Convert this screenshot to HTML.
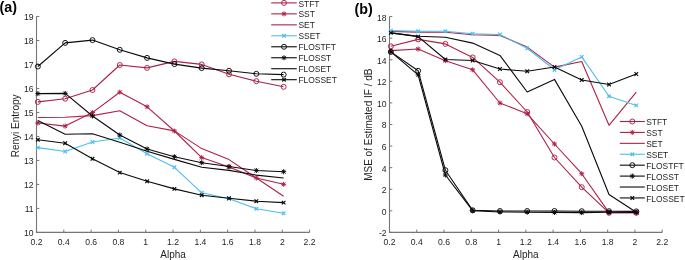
<!DOCTYPE html>
<html><head><meta charset="utf-8"><style>
html,body{margin:0;padding:0;background:#fff;width:685px;height:260px;overflow:hidden}
svg{display:block;will-change:transform}
</style></head><body>
<svg width="685" height="260" viewBox="0 0 685 260">
<rect width="685" height="260" fill="#fff"/>
<g font-family='"Liberation Sans", sans-serif' font-size="8.6" fill="#1e1e1e">
<path d="M36.5 16.5L36.5 232.4L309.6 232.4" fill="none" stroke="#767676" stroke-width="1.1"/>
<path d="M36.5 232.4L36.5 229.6M63.81 232.4L63.81 229.6M91.12 232.4L91.12 229.6M118.43 232.4L118.43 229.6M145.74 232.4L145.74 229.6M173.05 232.4L173.05 229.6M200.36 232.4L200.36 229.6M227.67 232.4L227.67 229.6M254.98 232.4L254.98 229.6M282.29 232.4L282.29 229.6M309.6 232.4L309.6 229.6M36.5 232.4L39.3 232.4M36.5 208.41L39.3 208.41M36.5 184.42L39.3 184.42M36.5 160.43L39.3 160.43M36.5 136.44L39.3 136.44M36.5 112.46L39.3 112.46M36.5 88.47L39.3 88.47M36.5 64.48L39.3 64.48M36.5 40.49L39.3 40.49M36.5 16.5L39.3 16.5" stroke="#767676" stroke-width="1" fill="none"/>
<text x="36.5" y="244.6" text-anchor="middle">0.2</text>
<text x="63.81" y="244.6" text-anchor="middle">0.4</text>
<text x="91.12" y="244.6" text-anchor="middle">0.6</text>
<text x="118.43" y="244.6" text-anchor="middle">0.8</text>
<text x="145.74" y="244.6" text-anchor="middle">1</text>
<text x="173.05" y="244.6" text-anchor="middle">1.2</text>
<text x="200.36" y="244.6" text-anchor="middle">1.4</text>
<text x="227.67" y="244.6" text-anchor="middle">1.6</text>
<text x="254.98" y="244.6" text-anchor="middle">1.8</text>
<text x="282.29" y="244.6" text-anchor="middle">2</text>
<text x="309.6" y="244.6" text-anchor="middle">2.2</text>
<text x="33.6" y="236.3" text-anchor="end">10</text>
<text x="33.6" y="212.31" text-anchor="end">11</text>
<text x="33.6" y="188.32" text-anchor="end">12</text>
<text x="33.6" y="164.33" text-anchor="end">13</text>
<text x="33.6" y="140.34" text-anchor="end">14</text>
<text x="33.6" y="116.36" text-anchor="end">15</text>
<text x="33.6" y="92.37" text-anchor="end">16</text>
<text x="33.6" y="68.38" text-anchor="end">17</text>
<text x="33.6" y="44.39" text-anchor="end">18</text>
<text x="33.6" y="20.4" text-anchor="end">19</text>
<text x="173.05" y="257.6" text-anchor="middle" font-size="10">Alpha</text>
<text transform="translate(19.3 125.85) rotate(-90)" text-anchor="middle" font-size="10">Renyi Entropy</text>
<path d="M389.5 16.6L389.5 232.4L662.2 232.4" fill="none" stroke="#767676" stroke-width="1.1"/>
<path d="M389.5 232.4L389.5 229.6M416.77 232.4L416.77 229.6M444.04 232.4L444.04 229.6M471.31 232.4L471.31 229.6M498.58 232.4L498.58 229.6M525.85 232.4L525.85 229.6M553.12 232.4L553.12 229.6M580.39 232.4L580.39 229.6M607.66 232.4L607.66 229.6M634.93 232.4L634.93 229.6M662.2 232.4L662.2 229.6M389.5 232.4L392.3 232.4M389.5 210.82L392.3 210.82M389.5 189.24L392.3 189.24M389.5 167.66L392.3 167.66M389.5 146.08L392.3 146.08M389.5 124.5L392.3 124.5M389.5 102.92L392.3 102.92M389.5 81.34L392.3 81.34M389.5 59.76L392.3 59.76M389.5 38.18L392.3 38.18M389.5 16.6L392.3 16.6" stroke="#767676" stroke-width="1" fill="none"/>
<text x="389.5" y="244.6" text-anchor="middle">0.2</text>
<text x="416.77" y="244.6" text-anchor="middle">0.4</text>
<text x="444.04" y="244.6" text-anchor="middle">0.6</text>
<text x="471.31" y="244.6" text-anchor="middle">0.8</text>
<text x="498.58" y="244.6" text-anchor="middle">1</text>
<text x="525.85" y="244.6" text-anchor="middle">1.2</text>
<text x="553.12" y="244.6" text-anchor="middle">1.4</text>
<text x="580.39" y="244.6" text-anchor="middle">1.6</text>
<text x="607.66" y="244.6" text-anchor="middle">1.8</text>
<text x="634.93" y="244.6" text-anchor="middle">2</text>
<text x="662.2" y="244.6" text-anchor="middle">2.2</text>
<text x="386.6" y="236.3" text-anchor="end">-2</text>
<text x="386.6" y="214.72" text-anchor="end">0</text>
<text x="386.6" y="193.14" text-anchor="end">2</text>
<text x="386.6" y="171.56" text-anchor="end">4</text>
<text x="386.6" y="149.98" text-anchor="end">6</text>
<text x="386.6" y="128.4" text-anchor="end">8</text>
<text x="386.6" y="106.82" text-anchor="end">10</text>
<text x="386.6" y="85.24" text-anchor="end">12</text>
<text x="386.6" y="63.66" text-anchor="end">14</text>
<text x="386.6" y="42.08" text-anchor="end">16</text>
<text x="386.6" y="20.5" text-anchor="end">18</text>
<text x="525.85" y="257.6" text-anchor="middle" font-size="10">Alpha</text>
<text transform="translate(372 124.7) rotate(-90)" text-anchor="middle" font-size="10">MSE of Estimated IF / dB</text>
</g>
<polyline points="37.85,101.9 65.16,98.7 92.47,90 119.78,65 147.09,67.9 174.4,61.4 201.71,64.4 229.02,74.3 256.33,81.2 283.64,86.8" fill="none" stroke="#ae2146" stroke-width="1.1" stroke-linejoin="round"/>
<circle cx="37.85" cy="101.9" r="2.5" fill="none" stroke="#ae2146" stroke-width="0.95"/>
<circle cx="65.16" cy="98.7" r="2.5" fill="none" stroke="#ae2146" stroke-width="0.95"/>
<circle cx="92.47" cy="90" r="2.5" fill="none" stroke="#ae2146" stroke-width="0.95"/>
<circle cx="119.78" cy="65" r="2.5" fill="none" stroke="#ae2146" stroke-width="0.95"/>
<circle cx="147.09" cy="67.9" r="2.5" fill="none" stroke="#ae2146" stroke-width="0.95"/>
<circle cx="174.4" cy="61.4" r="2.5" fill="none" stroke="#ae2146" stroke-width="0.95"/>
<circle cx="201.71" cy="64.4" r="2.5" fill="none" stroke="#ae2146" stroke-width="0.95"/>
<circle cx="229.02" cy="74.3" r="2.5" fill="none" stroke="#ae2146" stroke-width="0.95"/>
<circle cx="256.33" cy="81.2" r="2.5" fill="none" stroke="#ae2146" stroke-width="0.95"/>
<circle cx="283.64" cy="86.8" r="2.5" fill="none" stroke="#ae2146" stroke-width="0.95"/>
<polyline points="37.85,123 65.16,126.1 92.47,112.6 119.78,92.2 147.09,106.8 174.4,131 201.71,157.6 229.02,167 256.33,178 283.64,184.3" fill="none" stroke="#ae2146" stroke-width="1.1" stroke-linejoin="round"/>
<path d="M37.85 120.5L37.85 125.5M35.35 123L40.35 123M36 121.15L39.7 124.85M36 124.85L39.7 121.15" stroke="#ae2146" stroke-width="1.0" fill="none"/>
<path d="M65.16 123.6L65.16 128.6M62.66 126.1L67.66 126.1M63.31 124.25L67.01 127.95M63.31 127.95L67.01 124.25" stroke="#ae2146" stroke-width="1.0" fill="none"/>
<path d="M92.47 110.1L92.47 115.1M89.97 112.6L94.97 112.6M90.62 110.75L94.32 114.45M90.62 114.45L94.32 110.75" stroke="#ae2146" stroke-width="1.0" fill="none"/>
<path d="M119.78 89.7L119.78 94.7M117.28 92.2L122.28 92.2M117.93 90.35L121.63 94.05M117.93 94.05L121.63 90.35" stroke="#ae2146" stroke-width="1.0" fill="none"/>
<path d="M147.09 104.3L147.09 109.3M144.59 106.8L149.59 106.8M145.24 104.95L148.94 108.65M145.24 108.65L148.94 104.95" stroke="#ae2146" stroke-width="1.0" fill="none"/>
<path d="M174.4 128.5L174.4 133.5M171.9 131L176.9 131M172.55 129.15L176.25 132.85M172.55 132.85L176.25 129.15" stroke="#ae2146" stroke-width="1.0" fill="none"/>
<path d="M201.71 155.1L201.71 160.1M199.21 157.6L204.21 157.6M199.86 155.75L203.56 159.45M199.86 159.45L203.56 155.75" stroke="#ae2146" stroke-width="1.0" fill="none"/>
<path d="M229.02 164.5L229.02 169.5M226.52 167L231.52 167M227.17 165.15L230.87 168.85M227.17 168.85L230.87 165.15" stroke="#ae2146" stroke-width="1.0" fill="none"/>
<path d="M256.33 175.5L256.33 180.5M253.83 178L258.83 178M254.48 176.15L258.18 179.85M254.48 179.85L258.18 176.15" stroke="#ae2146" stroke-width="1.0" fill="none"/>
<path d="M283.64 181.8L283.64 186.8M281.14 184.3L286.14 184.3M281.79 182.45L285.49 186.15M281.79 186.15L285.49 182.45" stroke="#ae2146" stroke-width="1.0" fill="none"/>
<polyline points="37.85,117.5 65.16,117.3 92.47,115.6 119.78,110.8 147.09,125.8 174.4,130.9 201.71,148.6 229.02,159.6 256.33,178 283.64,196.3" fill="none" stroke="#ae2146" stroke-width="1.1" stroke-linejoin="round"/>
<polyline points="37.85,147.6 65.16,151.5 92.47,142 119.78,138 147.09,153.7 174.4,167.3 201.71,192.8 229.02,198.7 256.33,208.7 283.64,213.3" fill="none" stroke="#4dbeee" stroke-width="1.1" stroke-linejoin="round"/>
<path d="M36.05 145.8L39.65 149.4M36.05 149.4L39.65 145.8" stroke="#4dbeee" stroke-width="1.2" fill="none"/>
<path d="M63.36 149.7L66.96 153.3M63.36 153.3L66.96 149.7" stroke="#4dbeee" stroke-width="1.2" fill="none"/>
<path d="M90.67 140.2L94.27 143.8M90.67 143.8L94.27 140.2" stroke="#4dbeee" stroke-width="1.2" fill="none"/>
<path d="M117.98 136.2L121.58 139.8M117.98 139.8L121.58 136.2" stroke="#4dbeee" stroke-width="1.2" fill="none"/>
<path d="M145.29 151.9L148.89 155.5M145.29 155.5L148.89 151.9" stroke="#4dbeee" stroke-width="1.2" fill="none"/>
<path d="M172.6 165.5L176.2 169.1M172.6 169.1L176.2 165.5" stroke="#4dbeee" stroke-width="1.2" fill="none"/>
<path d="M199.91 191L203.51 194.6M199.91 194.6L203.51 191" stroke="#4dbeee" stroke-width="1.2" fill="none"/>
<path d="M227.22 196.9L230.82 200.5M227.22 200.5L230.82 196.9" stroke="#4dbeee" stroke-width="1.2" fill="none"/>
<path d="M254.53 206.9L258.13 210.5M254.53 210.5L258.13 206.9" stroke="#4dbeee" stroke-width="1.2" fill="none"/>
<path d="M281.84 211.5L285.44 215.1M281.84 215.1L285.44 211.5" stroke="#4dbeee" stroke-width="1.2" fill="none"/>
<polyline points="37.85,66.5 65.16,42.9 92.47,40.1 119.78,49.8 147.09,57.9 174.4,64.1 201.71,68.1 229.02,70.8 256.33,73.8 283.64,74.6" fill="none" stroke="#0a0a0a" stroke-width="1.1" stroke-linejoin="round"/>
<circle cx="37.85" cy="66.5" r="2.5" fill="none" stroke="#0a0a0a" stroke-width="0.95"/>
<circle cx="65.16" cy="42.9" r="2.5" fill="none" stroke="#0a0a0a" stroke-width="0.95"/>
<circle cx="92.47" cy="40.1" r="2.5" fill="none" stroke="#0a0a0a" stroke-width="0.95"/>
<circle cx="119.78" cy="49.8" r="2.5" fill="none" stroke="#0a0a0a" stroke-width="0.95"/>
<circle cx="147.09" cy="57.9" r="2.5" fill="none" stroke="#0a0a0a" stroke-width="0.95"/>
<circle cx="174.4" cy="64.1" r="2.5" fill="none" stroke="#0a0a0a" stroke-width="0.95"/>
<circle cx="201.71" cy="68.1" r="2.5" fill="none" stroke="#0a0a0a" stroke-width="0.95"/>
<circle cx="229.02" cy="70.8" r="2.5" fill="none" stroke="#0a0a0a" stroke-width="0.95"/>
<circle cx="256.33" cy="73.8" r="2.5" fill="none" stroke="#0a0a0a" stroke-width="0.95"/>
<circle cx="283.64" cy="74.6" r="2.5" fill="none" stroke="#0a0a0a" stroke-width="0.95"/>
<polyline points="37.85,93.6 65.16,93.4 92.47,116 119.78,135 147.09,149 174.4,156.7 201.71,162.7 229.02,166.5 256.33,170.5 283.64,171.7" fill="none" stroke="#0a0a0a" stroke-width="1.1" stroke-linejoin="round"/>
<path d="M37.85 91.1L37.85 96.1M35.35 93.6L40.35 93.6M36 91.75L39.7 95.45M36 95.45L39.7 91.75" stroke="#0a0a0a" stroke-width="1.0" fill="none"/>
<path d="M65.16 90.9L65.16 95.9M62.66 93.4L67.66 93.4M63.31 91.55L67.01 95.25M63.31 95.25L67.01 91.55" stroke="#0a0a0a" stroke-width="1.0" fill="none"/>
<path d="M92.47 113.5L92.47 118.5M89.97 116L94.97 116M90.62 114.15L94.32 117.85M90.62 117.85L94.32 114.15" stroke="#0a0a0a" stroke-width="1.0" fill="none"/>
<path d="M119.78 132.5L119.78 137.5M117.28 135L122.28 135M117.93 133.15L121.63 136.85M117.93 136.85L121.63 133.15" stroke="#0a0a0a" stroke-width="1.0" fill="none"/>
<path d="M147.09 146.5L147.09 151.5M144.59 149L149.59 149M145.24 147.15L148.94 150.85M145.24 150.85L148.94 147.15" stroke="#0a0a0a" stroke-width="1.0" fill="none"/>
<path d="M174.4 154.2L174.4 159.2M171.9 156.7L176.9 156.7M172.55 154.85L176.25 158.55M172.55 158.55L176.25 154.85" stroke="#0a0a0a" stroke-width="1.0" fill="none"/>
<path d="M201.71 160.2L201.71 165.2M199.21 162.7L204.21 162.7M199.86 160.85L203.56 164.55M199.86 164.55L203.56 160.85" stroke="#0a0a0a" stroke-width="1.0" fill="none"/>
<path d="M229.02 164L229.02 169M226.52 166.5L231.52 166.5M227.17 164.65L230.87 168.35M227.17 168.35L230.87 164.65" stroke="#0a0a0a" stroke-width="1.0" fill="none"/>
<path d="M256.33 168L256.33 173M253.83 170.5L258.83 170.5M254.48 168.65L258.18 172.35M254.48 172.35L258.18 168.65" stroke="#0a0a0a" stroke-width="1.0" fill="none"/>
<path d="M283.64 169.2L283.64 174.2M281.14 171.7L286.14 171.7M281.79 169.85L285.49 173.55M281.79 173.55L285.49 169.85" stroke="#0a0a0a" stroke-width="1.0" fill="none"/>
<polyline points="37.85,120.4 65.16,134.3 92.47,133.7 119.78,142.3 147.09,151.2 174.4,159.4 201.71,167.3 229.02,170.4 256.33,175.1 283.64,178" fill="none" stroke="#0a0a0a" stroke-width="1.1" stroke-linejoin="round"/>
<polyline points="37.85,139.7 65.16,143.2 92.47,158.8 119.78,172.6 147.09,181.3 174.4,188.9 201.71,195.2 229.02,198.3 256.33,201.2 283.64,202.6" fill="none" stroke="#0a0a0a" stroke-width="1.1" stroke-linejoin="round"/>
<path d="M36.05 137.9L39.65 141.5M36.05 141.5L39.65 137.9" stroke="#0a0a0a" stroke-width="1.2" fill="none"/>
<path d="M63.36 141.4L66.96 145M63.36 145L66.96 141.4" stroke="#0a0a0a" stroke-width="1.2" fill="none"/>
<path d="M90.67 157L94.27 160.6M90.67 160.6L94.27 157" stroke="#0a0a0a" stroke-width="1.2" fill="none"/>
<path d="M117.98 170.8L121.58 174.4M117.98 174.4L121.58 170.8" stroke="#0a0a0a" stroke-width="1.2" fill="none"/>
<path d="M145.29 179.5L148.89 183.1M145.29 183.1L148.89 179.5" stroke="#0a0a0a" stroke-width="1.2" fill="none"/>
<path d="M172.6 187.1L176.2 190.7M172.6 190.7L176.2 187.1" stroke="#0a0a0a" stroke-width="1.2" fill="none"/>
<path d="M199.91 193.4L203.51 197M199.91 197L203.51 193.4" stroke="#0a0a0a" stroke-width="1.2" fill="none"/>
<path d="M227.22 196.5L230.82 200.1M227.22 200.1L230.82 196.5" stroke="#0a0a0a" stroke-width="1.2" fill="none"/>
<path d="M254.53 199.4L258.13 203M254.53 203L258.13 199.4" stroke="#0a0a0a" stroke-width="1.2" fill="none"/>
<path d="M281.84 200.8L285.44 204.4M281.84 204.4L285.44 200.8" stroke="#0a0a0a" stroke-width="1.2" fill="none"/>
<polyline points="390.85,46.3 418.12,39.4 445.39,43.9 472.66,57.4 499.93,82.2 527.2,112 554.47,157.5 581.74,187.2 609.01,212.8 636.28,212.8" fill="none" stroke="#ae2146" stroke-width="1.1" stroke-linejoin="round"/>
<circle cx="390.85" cy="46.3" r="2.5" fill="none" stroke="#ae2146" stroke-width="0.95"/>
<circle cx="418.12" cy="39.4" r="2.5" fill="none" stroke="#ae2146" stroke-width="0.95"/>
<circle cx="445.39" cy="43.9" r="2.5" fill="none" stroke="#ae2146" stroke-width="0.95"/>
<circle cx="472.66" cy="57.4" r="2.5" fill="none" stroke="#ae2146" stroke-width="0.95"/>
<circle cx="499.93" cy="82.2" r="2.5" fill="none" stroke="#ae2146" stroke-width="0.95"/>
<circle cx="527.2" cy="112" r="2.5" fill="none" stroke="#ae2146" stroke-width="0.95"/>
<circle cx="554.47" cy="157.5" r="2.5" fill="none" stroke="#ae2146" stroke-width="0.95"/>
<circle cx="581.74" cy="187.2" r="2.5" fill="none" stroke="#ae2146" stroke-width="0.95"/>
<circle cx="609.01" cy="212.8" r="2.5" fill="none" stroke="#ae2146" stroke-width="0.95"/>
<circle cx="636.28" cy="212.8" r="2.5" fill="none" stroke="#ae2146" stroke-width="0.95"/>
<polyline points="390.85,50.6 418.12,49 445.39,60.7 472.66,69.8 499.93,103 527.2,113.8 554.47,144 581.74,173.7 609.01,212.6 636.28,212.8" fill="none" stroke="#ae2146" stroke-width="1.1" stroke-linejoin="round"/>
<path d="M390.85 48.1L390.85 53.1M388.35 50.6L393.35 50.6M389 48.75L392.7 52.45M389 52.45L392.7 48.75" stroke="#ae2146" stroke-width="1.0" fill="none"/>
<path d="M418.12 46.5L418.12 51.5M415.62 49L420.62 49M416.27 47.15L419.97 50.85M416.27 50.85L419.97 47.15" stroke="#ae2146" stroke-width="1.0" fill="none"/>
<path d="M445.39 58.2L445.39 63.2M442.89 60.7L447.89 60.7M443.54 58.85L447.24 62.55M443.54 62.55L447.24 58.85" stroke="#ae2146" stroke-width="1.0" fill="none"/>
<path d="M472.66 67.3L472.66 72.3M470.16 69.8L475.16 69.8M470.81 67.95L474.51 71.65M470.81 71.65L474.51 67.95" stroke="#ae2146" stroke-width="1.0" fill="none"/>
<path d="M499.93 100.5L499.93 105.5M497.43 103L502.43 103M498.08 101.15L501.78 104.85M498.08 104.85L501.78 101.15" stroke="#ae2146" stroke-width="1.0" fill="none"/>
<path d="M527.2 111.3L527.2 116.3M524.7 113.8L529.7 113.8M525.35 111.95L529.05 115.65M525.35 115.65L529.05 111.95" stroke="#ae2146" stroke-width="1.0" fill="none"/>
<path d="M554.47 141.5L554.47 146.5M551.97 144L556.97 144M552.62 142.15L556.32 145.85M552.62 145.85L556.32 142.15" stroke="#ae2146" stroke-width="1.0" fill="none"/>
<path d="M581.74 171.2L581.74 176.2M579.24 173.7L584.24 173.7M579.89 171.85L583.59 175.55M579.89 175.55L583.59 171.85" stroke="#ae2146" stroke-width="1.0" fill="none"/>
<path d="M609.01 210.1L609.01 215.1M606.51 212.6L611.51 212.6M607.16 210.75L610.86 214.45M607.16 214.45L610.86 210.75" stroke="#ae2146" stroke-width="1.0" fill="none"/>
<path d="M636.28 210.3L636.28 215.3M633.78 212.8L638.78 212.8M634.43 210.95L638.13 214.65M634.43 214.65L638.13 210.95" stroke="#ae2146" stroke-width="1.0" fill="none"/>
<polyline points="390.85,31.4 418.12,32.1 445.39,32.2 472.66,34.8 499.93,35.4 527.2,47.1 554.47,67.1 581.74,61.5 609.01,125.3 636.28,92.2" fill="none" stroke="#ae2146" stroke-width="1.1" stroke-linejoin="round"/>
<polyline points="390.85,30.6 418.12,31.3 445.39,31.3 472.66,33.7 499.93,34.5 527.2,48.3 554.47,69.8 581.74,56.9 609.01,96.2 636.28,105.4" fill="none" stroke="#4dbeee" stroke-width="1.1" stroke-linejoin="round"/>
<path d="M389.05 28.8L392.65 32.4M389.05 32.4L392.65 28.8" stroke="#4dbeee" stroke-width="1.2" fill="none"/>
<path d="M416.32 29.5L419.92 33.1M416.32 33.1L419.92 29.5" stroke="#4dbeee" stroke-width="1.2" fill="none"/>
<path d="M443.59 29.5L447.19 33.1M443.59 33.1L447.19 29.5" stroke="#4dbeee" stroke-width="1.2" fill="none"/>
<path d="M470.86 31.9L474.46 35.5M470.86 35.5L474.46 31.9" stroke="#4dbeee" stroke-width="1.2" fill="none"/>
<path d="M498.13 32.7L501.73 36.3M498.13 36.3L501.73 32.7" stroke="#4dbeee" stroke-width="1.2" fill="none"/>
<path d="M525.4 46.5L529 50.1M525.4 50.1L529 46.5" stroke="#4dbeee" stroke-width="1.2" fill="none"/>
<path d="M552.67 68L556.27 71.6M552.67 71.6L556.27 68" stroke="#4dbeee" stroke-width="1.2" fill="none"/>
<path d="M579.94 55.1L583.54 58.7M579.94 58.7L583.54 55.1" stroke="#4dbeee" stroke-width="1.2" fill="none"/>
<path d="M607.21 94.4L610.81 98M607.21 98L610.81 94.4" stroke="#4dbeee" stroke-width="1.2" fill="none"/>
<path d="M634.48 103.6L638.08 107.2M634.48 107.2L638.08 103.6" stroke="#4dbeee" stroke-width="1.2" fill="none"/>
<polyline points="390.85,51.9 418.12,70.8 445.39,170.2 472.66,210.3 499.93,211 527.2,211 554.47,211 581.74,211.2 609.01,211.2 636.28,211.4" fill="none" stroke="#0a0a0a" stroke-width="1.1" stroke-linejoin="round"/>
<circle cx="390.85" cy="51.9" r="2.5" fill="none" stroke="#0a0a0a" stroke-width="0.95"/>
<circle cx="418.12" cy="70.8" r="2.5" fill="none" stroke="#0a0a0a" stroke-width="0.95"/>
<circle cx="445.39" cy="170.2" r="2.5" fill="none" stroke="#0a0a0a" stroke-width="0.95"/>
<circle cx="472.66" cy="210.3" r="2.5" fill="none" stroke="#0a0a0a" stroke-width="0.95"/>
<circle cx="499.93" cy="211" r="2.5" fill="none" stroke="#0a0a0a" stroke-width="0.95"/>
<circle cx="527.2" cy="211" r="2.5" fill="none" stroke="#0a0a0a" stroke-width="0.95"/>
<circle cx="554.47" cy="211" r="2.5" fill="none" stroke="#0a0a0a" stroke-width="0.95"/>
<circle cx="581.74" cy="211.2" r="2.5" fill="none" stroke="#0a0a0a" stroke-width="0.95"/>
<circle cx="609.01" cy="211.2" r="2.5" fill="none" stroke="#0a0a0a" stroke-width="0.95"/>
<circle cx="636.28" cy="211.4" r="2.5" fill="none" stroke="#0a0a0a" stroke-width="0.95"/>
<polyline points="390.85,51.9 418.12,74.8 445.39,175 472.66,210.6 499.93,212 527.2,212.2 554.47,212.4 581.74,212.6 609.01,212.2 636.28,212.4" fill="none" stroke="#0a0a0a" stroke-width="1.1" stroke-linejoin="round"/>
<path d="M390.85 49.4L390.85 54.4M388.35 51.9L393.35 51.9M389 50.05L392.7 53.75M389 53.75L392.7 50.05" stroke="#0a0a0a" stroke-width="1.0" fill="none"/>
<path d="M418.12 72.3L418.12 77.3M415.62 74.8L420.62 74.8M416.27 72.95L419.97 76.65M416.27 76.65L419.97 72.95" stroke="#0a0a0a" stroke-width="1.0" fill="none"/>
<path d="M445.39 172.5L445.39 177.5M442.89 175L447.89 175M443.54 173.15L447.24 176.85M443.54 176.85L447.24 173.15" stroke="#0a0a0a" stroke-width="1.0" fill="none"/>
<path d="M472.66 208.1L472.66 213.1M470.16 210.6L475.16 210.6M470.81 208.75L474.51 212.45M470.81 212.45L474.51 208.75" stroke="#0a0a0a" stroke-width="1.0" fill="none"/>
<path d="M499.93 209.5L499.93 214.5M497.43 212L502.43 212M498.08 210.15L501.78 213.85M498.08 213.85L501.78 210.15" stroke="#0a0a0a" stroke-width="1.0" fill="none"/>
<path d="M527.2 209.7L527.2 214.7M524.7 212.2L529.7 212.2M525.35 210.35L529.05 214.05M525.35 214.05L529.05 210.35" stroke="#0a0a0a" stroke-width="1.0" fill="none"/>
<path d="M554.47 209.9L554.47 214.9M551.97 212.4L556.97 212.4M552.62 210.55L556.32 214.25M552.62 214.25L556.32 210.55" stroke="#0a0a0a" stroke-width="1.0" fill="none"/>
<path d="M581.74 210.1L581.74 215.1M579.24 212.6L584.24 212.6M579.89 210.75L583.59 214.45M579.89 214.45L583.59 210.75" stroke="#0a0a0a" stroke-width="1.0" fill="none"/>
<path d="M609.01 209.7L609.01 214.7M606.51 212.2L611.51 212.2M607.16 210.35L610.86 214.05M607.16 214.05L610.86 210.35" stroke="#0a0a0a" stroke-width="1.0" fill="none"/>
<path d="M636.28 209.9L636.28 214.9M633.78 212.4L638.78 212.4M634.43 210.55L638.13 214.25M634.43 214.25L638.13 210.55" stroke="#0a0a0a" stroke-width="1.0" fill="none"/>
<polyline points="390.85,32.9 418.12,36.3 445.39,37.3 472.66,43.1 499.93,55.4 527.2,92 554.47,79.4 581.74,126.2 609.01,194.5 636.28,212.3" fill="none" stroke="#0a0a0a" stroke-width="1.1" stroke-linejoin="round"/>
<polyline points="390.85,32.9 418.12,36.6 445.39,59.5 472.66,60.5 499.93,69 527.2,71.3 554.47,67 581.74,80 609.01,84.5 636.28,74" fill="none" stroke="#0a0a0a" stroke-width="1.1" stroke-linejoin="round"/>
<path d="M389.05 31.1L392.65 34.7M389.05 34.7L392.65 31.1" stroke="#0a0a0a" stroke-width="1.2" fill="none"/>
<path d="M416.32 34.8L419.92 38.4M416.32 38.4L419.92 34.8" stroke="#0a0a0a" stroke-width="1.2" fill="none"/>
<path d="M443.59 57.7L447.19 61.3M443.59 61.3L447.19 57.7" stroke="#0a0a0a" stroke-width="1.2" fill="none"/>
<path d="M470.86 58.7L474.46 62.3M470.86 62.3L474.46 58.7" stroke="#0a0a0a" stroke-width="1.2" fill="none"/>
<path d="M498.13 67.2L501.73 70.8M498.13 70.8L501.73 67.2" stroke="#0a0a0a" stroke-width="1.2" fill="none"/>
<path d="M525.4 69.5L529 73.1M525.4 73.1L529 69.5" stroke="#0a0a0a" stroke-width="1.2" fill="none"/>
<path d="M552.67 65.2L556.27 68.8M552.67 68.8L556.27 65.2" stroke="#0a0a0a" stroke-width="1.2" fill="none"/>
<path d="M579.94 78.2L583.54 81.8M579.94 81.8L583.54 78.2" stroke="#0a0a0a" stroke-width="1.2" fill="none"/>
<path d="M607.21 82.7L610.81 86.3M607.21 86.3L610.81 82.7" stroke="#0a0a0a" stroke-width="1.2" fill="none"/>
<path d="M634.48 72.2L638.08 75.8M634.48 75.8L638.08 72.2" stroke="#0a0a0a" stroke-width="1.2" fill="none"/>
<g font-family='"Liberation Sans", sans-serif' font-size="8.45" fill="#1e1e1e">
<path d="M271.2 2.9L296.8 2.9" stroke="#ae2146" stroke-width="1.1"/>
<circle cx="284" cy="2.9" r="2.5" fill="none" stroke="#ae2146" stroke-width="0.95"/>
<text x="298.4" y="6.5">STFT</text>
<path d="M271.2 13.87L296.8 13.87" stroke="#ae2146" stroke-width="1.1"/>
<path d="M284 11.37L284 16.37M281.5 13.87L286.5 13.87M282.15 12.02L285.85 15.72M282.15 15.72L285.85 12.02" stroke="#ae2146" stroke-width="1.0" fill="none"/>
<text x="298.4" y="17.47">SST</text>
<path d="M271.2 24.84L296.8 24.84" stroke="#ae2146" stroke-width="1.1"/>
<text x="298.4" y="28.44">SET</text>
<path d="M271.2 35.81L296.8 35.81" stroke="#4dbeee" stroke-width="1.1"/>
<path d="M282.2 34.01L285.8 37.61M282.2 37.61L285.8 34.01" stroke="#4dbeee" stroke-width="1.2" fill="none"/>
<text x="298.4" y="39.41">SSET</text>
<path d="M271.2 46.78L296.8 46.78" stroke="#0a0a0a" stroke-width="1.1"/>
<circle cx="284" cy="46.78" r="2.5" fill="none" stroke="#0a0a0a" stroke-width="0.95"/>
<text x="298.4" y="50.38">FLOSTFT</text>
<path d="M271.2 57.75L296.8 57.75" stroke="#0a0a0a" stroke-width="1.1"/>
<path d="M284 55.25L284 60.25M281.5 57.75L286.5 57.75M282.15 55.9L285.85 59.6M282.15 59.6L285.85 55.9" stroke="#0a0a0a" stroke-width="1.0" fill="none"/>
<text x="298.4" y="61.35">FLOSST</text>
<path d="M271.2 68.72L296.8 68.72" stroke="#0a0a0a" stroke-width="1.1"/>
<text x="298.4" y="72.32">FLOSET</text>
<path d="M271.2 79.69L296.8 79.69" stroke="#0a0a0a" stroke-width="1.1"/>
<path d="M282.2 77.89L285.8 81.49M282.2 81.49L285.8 77.89" stroke="#0a0a0a" stroke-width="1.2" fill="none"/>
<text x="298.4" y="83.29">FLOSSET</text>
<path d="M619.8 121.5L644.8 121.5" stroke="#ae2146" stroke-width="1.1"/>
<circle cx="632.3" cy="121.5" r="2.5" fill="none" stroke="#ae2146" stroke-width="0.95"/>
<text x="646.2" y="125.1">STFT</text>
<path d="M619.8 132.42L644.8 132.42" stroke="#ae2146" stroke-width="1.1"/>
<path d="M632.3 129.92L632.3 134.92M629.8 132.42L634.8 132.42M630.45 130.57L634.15 134.27M630.45 134.27L634.15 130.57" stroke="#ae2146" stroke-width="1.0" fill="none"/>
<text x="646.2" y="136.02">SST</text>
<path d="M619.8 143.34L644.8 143.34" stroke="#ae2146" stroke-width="1.1"/>
<text x="646.2" y="146.94">SET</text>
<path d="M619.8 154.26L644.8 154.26" stroke="#4dbeee" stroke-width="1.1"/>
<path d="M630.5 152.46L634.1 156.06M630.5 156.06L634.1 152.46" stroke="#4dbeee" stroke-width="1.2" fill="none"/>
<text x="646.2" y="157.86">SSET</text>
<path d="M619.8 165.18L644.8 165.18" stroke="#0a0a0a" stroke-width="1.1"/>
<circle cx="632.3" cy="165.18" r="2.5" fill="none" stroke="#0a0a0a" stroke-width="0.95"/>
<text x="646.2" y="168.78">FLOSTFT</text>
<path d="M619.8 176.1L644.8 176.1" stroke="#0a0a0a" stroke-width="1.1"/>
<path d="M632.3 173.6L632.3 178.6M629.8 176.1L634.8 176.1M630.45 174.25L634.15 177.95M630.45 177.95L634.15 174.25" stroke="#0a0a0a" stroke-width="1.0" fill="none"/>
<text x="646.2" y="179.7">FLOSST</text>
<path d="M619.8 187.02L644.8 187.02" stroke="#0a0a0a" stroke-width="1.1"/>
<text x="646.2" y="190.62">FLOSET</text>
<path d="M619.8 197.94L644.8 197.94" stroke="#0a0a0a" stroke-width="1.1"/>
<path d="M630.5 196.14L634.1 199.74M630.5 199.74L634.1 196.14" stroke="#0a0a0a" stroke-width="1.2" fill="none"/>
<text x="646.2" y="201.54">FLOSSET</text>
</g>
<g font-family='"Liberation Sans", sans-serif' font-size="14.3" font-weight="bold" fill="#000">
<text x="-0.5" y="12.0">(a)</text>
<text x="354.5" y="14.3">(b)</text>
</g>
</svg>
</body></html>
